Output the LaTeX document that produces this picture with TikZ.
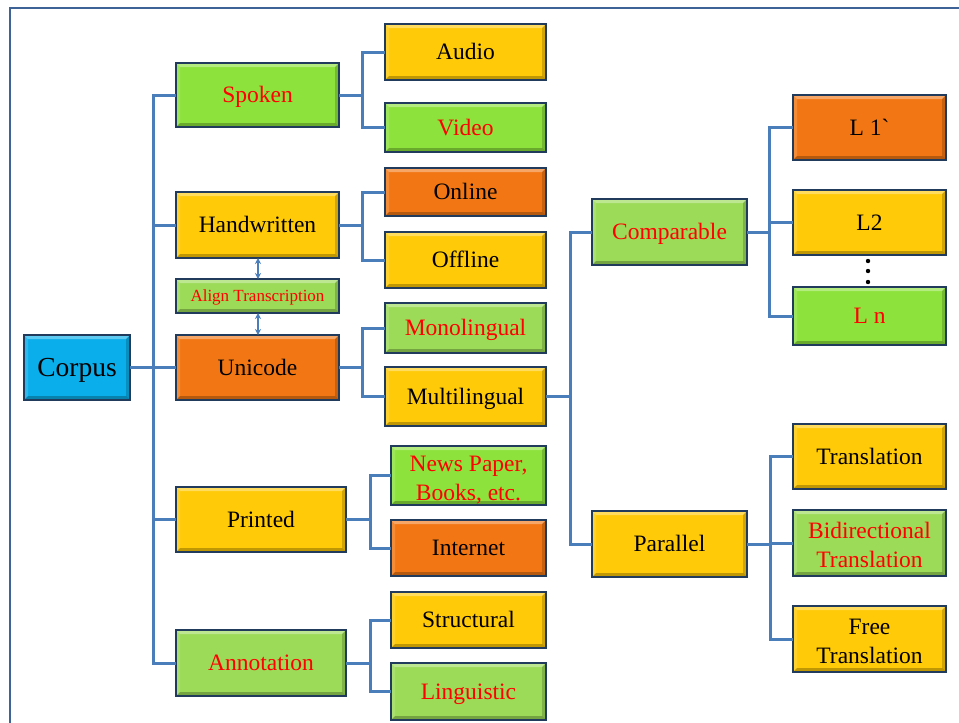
\documentclass[tikz,border=0pt]{standalone}
\usepackage{fontspec}
\setmainfont{Liberation Serif}
\newfontfamily\plainserif{Liberation Serif}
\usetikzlibrary{arrows.meta}

\definecolor{cYel}{HTML}{FFCA08}
\definecolor{cOrg}{HTML}{F27714}
\definecolor{cGrB}{HTML}{8DE23C}
\definecolor{cGrL}{HTML}{9CDB58}
\definecolor{cCyan}{HTML}{0AAEEA}
\definecolor{cBorder}{HTML}{213B5C}
\definecolor{cLine}{HTML}{4A7EBB}
\definecolor{cFrame}{HTML}{3E6497}
\definecolor{cRed}{HTML}{FF0000}

% strut spanning the font's full ascender and descender
\newcommand\tstrut{\rule[-0.216em]{0pt}{1.107em}}

\tikzset{
  bevel/.style={path picture={
    \fill[white,opacity=.35] (path picture bounding box.north west) -- (path picture bounding box.north east)
      -- ([shift={(-4pt,-4pt)}]path picture bounding box.north east) -- ([shift={(4pt,-4pt)}]path picture bounding box.north west) -- cycle;
    \fill[white,opacity=.15] (path picture bounding box.north west) -- ([shift={(4pt,-4pt)}]path picture bounding box.north west)
      -- ([shift={(4pt,4pt)}]path picture bounding box.south west) -- (path picture bounding box.south west) -- cycle;
    \fill[black,opacity=.25] (path picture bounding box.south west) -- (path picture bounding box.south east)
      -- ([shift={(-4pt,4pt)}]path picture bounding box.south east) -- ([shift={(4pt,4pt)}]path picture bounding box.south west) -- cycle;
    \fill[black,opacity=.18] (path picture bounding box.north east) -- ([shift={(-4pt,-4pt)}]path picture bounding box.north east)
      -- ([shift={(-4pt,4pt)}]path picture bounding box.south east) -- (path picture bounding box.south east) -- cycle;
  }},
  box/.style={draw=cBorder, line width=2.5pt, inner sep=0pt, outer sep=0pt, align=center,
    font=\fontsize{23.5}{29}\selectfont, bevel, execute at begin node=\tstrut},
  twoline/.style={text height=49.6pt, text depth=0pt},
  yel/.style={fill=cYel, text=black},
  org/.style={fill=cOrg, text=black},
  grb/.style={fill=cGrB, text=cRed},
  grl/.style={fill=cGrL, text=cRed},
  conn/.style={draw=cLine, line width=3pt},
  alignarrow/.style={draw=cLine, line width=1.6pt,
    {Stealth[length=6pt,width=6pt]}-{Stealth[length=6pt,width=6pt]}},
}

% \bx{name}{x1}{y1}{x2}{y2}{style}{text}
\newcommand\bx[7]{%
  \node[box,#6,minimum width={(#4-#2)*1pt},minimum height={(#5-#3)*1pt}]
    (#1) at ({(#2+#4)/2},{(#3+#5)/2}) {#7};}

\begin{document}
\begin{tikzpicture}[x=1pt,y=-1pt]
\useasboundingbox (0,0) rectangle (959,723);
\fill[white] (0,0) rectangle (959,723);

% outer frame
\draw[cFrame,line width=2.2pt] (10,723) -- (10,8) -- (959,8);

% junction columns
\coordinate (tr) at (153,360);
\coordinate (jS) at (362,95);
\coordinate (jH) at (362,225);
\coordinate (jU) at (362,367);
\coordinate (jP) at (370,519);
\coordinate (jA) at (370,663);
\coordinate (jM) at (570,396);
\coordinate (jC) at (769,232);
\coordinate (jR) at (770,544);

% root and first level
\bx{corpus}{24}{335}{130}{400}{fill=cCyan,text=black,font=\fontsize{27.5}{32}\selectfont}{Corpus}
\bx{spoken}{176}{63}{339}{127}{grb}{Spoken}
\bx{handw}{176}{192}{339}{258}{yel}{Handwritten}
\bx{align}{176}{279}{339}{313}{grl,font=\fontsize{17}{20}\selectfont}{Align Transcription}
\bx{unicode}{176}{335}{339}{400}{org}{Unicode}
\bx{printed}{176}{487}{346}{552}{yel}{Printed}
\bx{annot}{176}{630}{346}{696}{grl}{Annotation}

% second level
\bx{audio}{385}{24}{546}{80}{yel}{Audio}
\bx{video}{385}{103}{546}{152}{grb}{Video}
\bx{online}{385}{168}{546}{216}{org}{Online}
\bx{offline}{385}{232}{546}{288}{yel}{Offline}
\bx{mono}{385}{303}{546}{353}{grl}{Monolingual}
\bx{multi}{385}{367}{546}{426}{yel}{Multilingual}
\bx{news}{391}{446}{546}{505}{grb,twoline}{News Paper,\\Books, etc.}
\bx{internet}{391}{520}{546}{576}{org}{Internet}
\bx{struct}{391}{592}{546}{648}{yel}{Structural}
\bx{ling}{391}{663}{546}{720}{grl}{Linguistic}

% multilingual branch
\bx{comp}{592}{199}{747}{265}{grl}{Comparable}
\bx{parallel}{592}{511}{747}{577}{yel}{Parallel}
\bx{lone}{793}{95}{946}{160}{org}{{\plainserif L 1`}}
\bx{ltwo}{793}{190}{946}{255}{yel}{L2}
\bx{ln}{793}{287}{946}{345}{grb}{L n}
\bx{trans}{793}{424}{946}{489}{yel}{Translation}
\bx{bidir}{793}{510}{946}{576}{grl,twoline}{Bidirectional\\Translation}
\bx{free}{793}{606}{946}{672}{yel,twoline}{Free\\Translation}

% trunk
\draw[conn] (corpus.east) -- (unicode.west);
\draw[conn] (spoken.west) -| (tr) |- (annot.west);
\draw[conn] (handw.west) -- (handw.west -| tr);
\draw[conn] (printed.west) -- (printed.west -| tr);

% groups
\draw[conn] (spoken.east) -- (spoken.east -| jS);
\draw[conn] (audio.west) -| (jS) |- (video.west);
\draw[conn] (handw.east) -- (handw.east -| jH);
\draw[conn] (online.west) -| (jH) |- (offline.west);
\draw[conn] (unicode.east) -- (unicode.east -| jU);
\draw[conn] (mono.west) -| (jU) |- (multi.west);
\draw[conn] (printed.east) -- (printed.east -| jP);
\draw[conn] (news.west) -| (jP) |- (internet.west);
\draw[conn] (annot.east) -- (annot.east -| jA);
\draw[conn] (struct.west) -| (jA) |- (ling.west);
\draw[conn] (multi.east) -- (multi.east -| jM);
\draw[conn] (comp.west) -| (jM) |- (parallel.west);
\draw[conn] (comp.east) -- (comp.east -| jC);
\draw[conn] (ltwo.west) -- (ltwo.west -| jC);
\draw[conn] (lone.west) -| (jC) |- (ln.west);
\draw[conn] (parallel.east) -- (parallel.east -| jR);
\draw[conn] (bidir.west) -- (bidir.west -| jR);
\draw[conn] (trans.west) -| (jR) |- (free.west);

% transcription alignment arrows
\draw[alignarrow] (handw.south -| 258,0) -- (align.north -| 258,0);
\draw[alignarrow] (align.south -| 258,0) -- (unicode.north -| 258,0);

% ellipsis between L2 and L n
\foreach \yy [count=\i] in {261,271,282}
  \fill (868,\yy) circle[radius=2.2pt] node[coordinate] (dot\i) {};
\end{tikzpicture}
\end{document}
